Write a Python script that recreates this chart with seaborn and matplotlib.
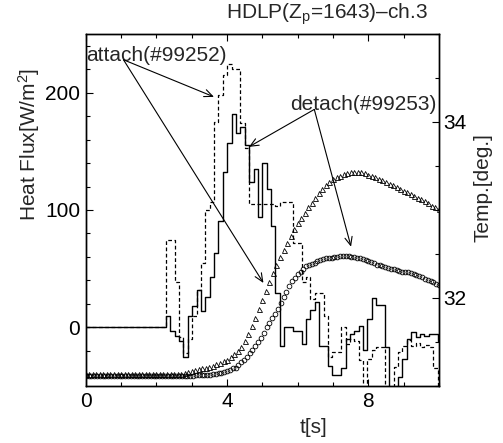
import numpy as np
import matplotlib
matplotlib.use("Agg")
import matplotlib.pyplot as plt
from matplotlib.ticker import MultipleLocator
import seaborn as sns

# heat flux steps (W/m^2), one value per digitiser step
flux_t0 = 2.27
flux_dt = 0.124
flux_detach = [10, -3, -7, -12, -25, 10, 18, 32, 14, 26,
               43, 63, 91, 132, 157, 182, 166, 171, 155, 124,
               135, 94, 140, 118, 86, 29, -16, 0, 0, -3,
               -3, -14, 7, 15, 22, -16, -16, -33, -41, -41,
               -35, -10, -6, -3, 1, -19, 7, 25, 19, 19,
               -17, -60, -60, -42, -27, -10, -4, -8, -6, -7,
               -6, -6, -12]
flux_attach = [74, 74, 39, -8, -22, -10, 10, 32, 55, 100,
               107, 175, 198, 215, 224, 220, 220, 174, 153, 105,
               105, 105, 105, 105, 105, 103, 107, 107, 107, 72,
               72, 39, 43, 24, 29, 29, 10, -25, -21, -21,
               0, -14, -10, -12, -28, -60, -27, -19, -17, -17,
               -60, -60, -34, -21, -16, -11, -16, -13, -17, -15,
               -17, -35, -60]

# temperatures (deg.)
temp_attach_dt = 0.1
temp_attach = [31.14] * 28 + [
    31.15, 31.16, 31.17, 31.18, 31.19, 31.20, 31.21, 31.22, 31.23, 31.25,
    31.26, 31.28, 31.30, 31.33, 31.36, 31.40, 31.44, 31.51, 31.59, 31.68,
    31.77, 31.87, 31.98, 32.08, 32.18, 32.28, 32.38, 32.47, 32.55, 32.63,
    32.71, 32.78, 32.85, 32.91, 32.97, 33.03, 33.08, 33.14, 33.19, 33.24,
    33.28, 33.32, 33.35, 33.37, 33.39, 33.41, 33.42, 33.43, 33.43, 33.43,
    33.43, 33.42, 33.40, 33.39, 33.37, 33.35, 33.34, 33.32, 33.30, 33.28,
    33.26, 33.24, 33.22, 33.20, 33.18, 33.16, 33.14, 33.12, 33.10, 33.08,
    33.05, 33.03, 33.01]
temp_detach_dt = 0.08
temp_detach = [31.11] * 39 + [
    31.12, 31.12, 31.12, 31.13, 31.13, 31.13, 31.14, 31.14, 31.15, 31.15,
    31.16, 31.17, 31.18, 31.20, 31.21, 31.24, 31.27, 31.30, 31.33, 31.37,
    31.41, 31.46, 31.50, 31.55, 31.60, 31.67, 31.72, 31.77, 31.82, 31.88,
    31.94, 32.01, 32.07, 32.14, 32.19, 32.23, 32.27, 32.30, 32.33, 32.36,
    32.38, 32.39, 32.40, 32.42, 32.43, 32.44, 32.45, 32.45, 32.46, 32.47,
    32.47, 32.48, 32.48, 32.48, 32.48, 32.47, 32.47, 32.46, 32.45, 32.44,
    32.43, 32.42, 32.41, 32.40, 32.38, 32.37, 32.36, 32.35, 32.34, 32.33,
    32.33, 32.32, 32.31, 32.30, 32.30, 32.29, 32.28, 32.27, 32.26, 32.25,
    32.24, 32.22, 32.21, 32.19, 32.18, 32.16, 32.15]

sns.set_theme(style="ticks")
plt.rcParams["font.family"] = ["Liberation Sans", "DejaVu Sans"]
plt.rcParams["mathtext.fontset"] = "custom"
plt.rcParams["mathtext.rm"] = "Liberation Sans"
plt.rcParams["mathtext.it"] = "Liberation Sans"
plt.rcParams["axes.linewidth"] = 1.0

fs = 15

fig = plt.figure(figsize=(5.03, 4.43), dpi=100)
ax = fig.add_axes([0.1704, 0.1287, 0.7024, 0.7946])
ax2 = ax.twinx()


def step_series(vals):
    n = len(vals)
    t = np.concatenate([[0.0], flux_t0 + flux_dt * np.arange(n), [10.0]])
    y = np.array([0] + vals + [vals[-1]], dtype=float)
    return t, y


t_d, y_d = step_series(flux_detach)
t_a, y_a = step_series(flux_attach)

sns.lineplot(x=t_a, y=y_a, ax=ax, color="black", lw=0.9,
             linestyle=(0, (3, 2)), drawstyle="steps-post", sort=False)
sns.lineplot(x=t_d, y=y_d, ax=ax, color="black", lw=1.0,
             drawstyle="steps-post", sort=False)

ta = temp_attach_dt * np.arange(len(temp_attach))
td = temp_detach_dt * np.arange(len(temp_detach))
sns.lineplot(x=ta, y=temp_attach, ax=ax2, color="black", linestyle="",
             marker="^", ms=3.6, mfc="none", mec="black", mew=0.6)
sns.lineplot(x=td, y=temp_detach, ax=ax2, color="black", linestyle="",
             marker="o", ms=3.4, mfc="none", mec="black", mew=0.6)

ax.set_xlim(0, 10)
ax.set_ylim(-50, 250)
ax2.set_ylim(31, 35)

ax.xaxis.set_major_locator(MultipleLocator(4))
ax.xaxis.set_minor_locator(MultipleLocator(1))
ax.yaxis.set_major_locator(MultipleLocator(100))
ax.yaxis.set_minor_locator(MultipleLocator(20))
ax2.yaxis.set_major_locator(MultipleLocator(2))
ax2.yaxis.set_minor_locator(MultipleLocator(0.5))

ax.tick_params(which="both", direction="in", top=True, right=False,
               labelsize=fs, colors="black")
ax.tick_params(which="major", length=5, width=0.8, pad=4)
ax.tick_params(which="minor", length=3, width=0.8)
ax2.tick_params(which="both", direction="in", labelsize=fs, colors="black")
ax2.tick_params(which="major", length=5, width=0.8, pad=3)
ax2.tick_params(which="minor", length=3, width=0.8)

for a in (ax, ax2):
    for s in a.spines.values():
        s.set_color("black")

ax.set_xlabel("t[s]", fontsize=fs)
ax.set_ylabel(r"Heat Flux[W/m$^2$]", fontsize=fs)
ax2.set_ylabel("Temp.[deg.]", fontsize=fs)
ax.xaxis.label.set_va("center")
ax.yaxis.label.set_va("center")
ax2.yaxis.label.set_va("center")
ax.xaxis.set_label_coords(0.646, -0.119)
ax.yaxis.set_label_coords(-0.160, 0.6875)
ax2.yaxis.set_label_coords(1.1245, 0.564)

fig.text(428 / 503, 1 - 14 / 443, r"HDLP(Z$_\mathrm{p}$=1643)–ch.3",
         ha="right", va="center", fontsize=fs)

ax.text(0.01, 232, "attach(#99252)", ha="left", va="center", fontsize=fs)
ax.text(9.92, 190, "detach(#99253)", ha="right", va="center", fontsize=fs)

arrow = dict(arrowstyle="->,head_length=0.5,head_width=0.22", lw=0.8,
             color="black", shrinkA=0, shrinkB=0)
attach_start = (1.07, 228)
for end in [(3.63, 196.4), (5.03, 37.8)]:
    ax.annotate("", xy=end, xytext=attach_start, arrowprops=arrow)
detach_start = (6.47, 185.7)
for end in [(4.62, 153.8), (7.51, 68.7)]:
    ax.annotate("", xy=end, xytext=detach_start, arrowprops=arrow)

fig.savefig("out.png", dpi=100)
